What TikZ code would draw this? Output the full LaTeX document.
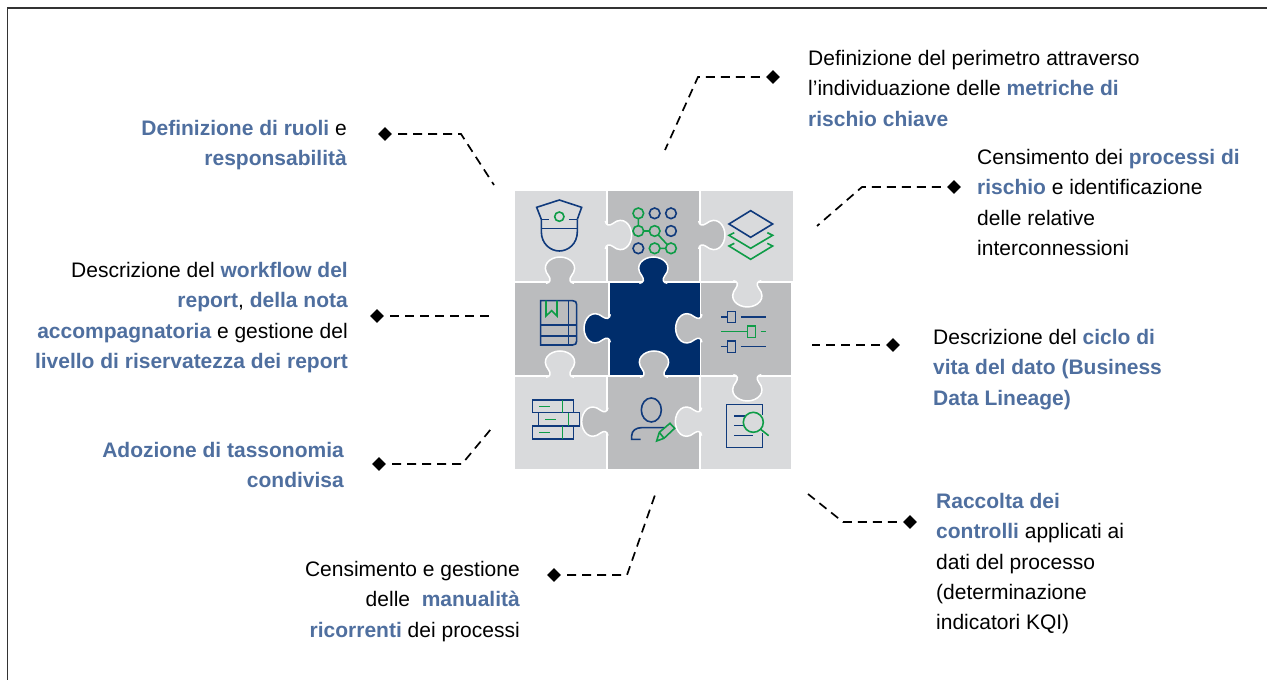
\documentclass[tikz,border=0pt]{standalone}
\usepackage{fontspec}
\setmainfont{Liberation Sans}
\usetikzlibrary{shapes.geometric}
\definecolor{tileLight}{HTML}{D9DADC}
\definecolor{tileMid}{HTML}{BBBCBE}
\definecolor{tileNavy}{HTML}{002D6B}
\definecolor{iconGreen}{HTML}{0E9C47}
\definecolor{iconNavy}{HTML}{103A7C}
\definecolor{txtBlue}{HTML}{4F6F9F}
\newcommand{\kw}[1]{{\bfseries\color{txtBlue}#1}}
\tikzset{
  pics/knob/.style={code={
    \path[fill=#1, draw=white, line width=1.5pt] (-42,4) .. controls (-28,2) and (-27,-8) .. (-34,-18)
      .. controls (-60,-50) and (-30,-75) .. (0,-75) .. controls (30,-75) and (60,-50) .. (34,-18)
      .. controls (27,-8) and (28,2) .. (42,4);
  }},
  txtl/.style={anchor=north west, inner sep=0pt, align=left, font=\fontsize{21}{30.3}\selectfont},
  txtr/.style={anchor=north east, inner sep=0pt, align=right, font=\fontsize{21}{30.3}\selectfont},
  dot/.style={diamond, fill=black, inner sep=0pt, minimum size=14pt},
  dashline/.style={draw=black, line width=1.7pt, dash pattern=on 9pt off 6pt, dash phase=9pt},
  navyline/.style={draw=iconNavy, line width=1.6pt},
  greenline/.style={draw=iconGreen, line width=1.6pt}
}
\begin{document}
\begin{tikzpicture}[x=1pt, y=-1pt]
  \useasboundingbox (0,0) rectangle (1267,680);
  \draw[line width=1.2pt, draw=black!80] (7.5,680) -- (7.5,8) -- (1267,8);

  \begin{scope}[shift={(500,180)}, x=.3333pt, y=-.3333pt]
    \fill[tileLight] (45,32) rectangle (318,303);
    \fill[tileMid] (323,32) rectangle (597,303);
    \fill[tileLight] (603,32) rectangle (880,303);
    \fill[tileMid] (45,310) rectangle (325,585);
    \fill[tileNavy] (329,310) rectangle (600,585);
    \fill[tileMid] (604,310) rectangle (873,585);
    \fill[tileLight] (45,592) rectangle (318,866);
    \fill[tileMid] (323,592) rectangle (598,866);
    \fill[tileLight] (604,592) rectangle (873,866);

    \pic[rotate=-90] at (320,165) {knob=tileLight};
    \pic[rotate=-90] at (600,165) {knob=tileMid};
    \pic at (180,306) {knob=tileMid};
    \pic at (460,306) {knob=tileNavy};
    \pic[rotate=180] at (742,306) {knob=tileLight};
    \pic[rotate=90] at (327,445) {knob=tileNavy};
    \pic[rotate=90] at (602,445) {knob=tileMid};
    \pic at (180,588) {knob=tileLight};
    \pic at (462,588) {knob=tileMid};
    \pic[rotate=180] at (742,588) {knob=tileMid};
    \pic[rotate=90] at (320,725) {knob=tileMid};
    \pic[rotate=90] at (601,725) {knob=tileLight};

    % cap
    \draw[navyline] (124,118) -- (110,82) -- (178,60) -- (245,82) -- (232,118);
    \draw[navyline] (124,118) -- (148,118) (208,118) -- (232,118) (124,145) -- (232,145);
    \draw[navyline] (124,118) -- (124,155) .. controls (124,192) and (152,213) .. (178,213) .. controls (204,213) and (232,192) .. (232,155) -- (232,118);
    \draw[greenline] (178,110) circle [radius=14];

    % grid of dots
    \foreach \cx/\cy/\cc in {415/100/iconGreen, 464/100/iconNavy, 513/100/iconNavy, 415/153/iconGreen, 464/153/iconGreen, 513/153/iconNavy, 415/205/iconNavy, 464/205/iconGreen, 513/205/iconGreen}
      \draw[draw=\cc, line width=1.6pt] (\cx,\cy) circle [radius=16];
    \draw[greenline] (415,116) -- (415,137) (431,153) -- (448,153) (475,165) -- (502,194) (480,205) -- (497,205);

    % layers
    \draw[navyline] (752,92) -- (818,132) -- (752,172) -- (687,132) -- cycle;
    \draw[greenline] (703,158) -- (687,166) -- (752,205) -- (818,166) -- (802,158);
    \draw[greenline] (703,190) -- (687,198) -- (752,238) -- (818,198) -- (802,190);

    % book
    \draw[navyline] (122,495) -- (122,362) -- (218,362) .. controls (226,362) and (230,366) .. (230,374) -- (230,483) .. controls (230,491) and (226,495) .. (218,495) -- cycle;
    \draw[navyline] (205,362) -- (205,495) (122,435) -- (230,435) (122,468) -- (230,468);
    \draw[greenline] (138,362) -- (138,408) -- (155,392) -- (171,408) -- (171,362);

    % sliders
    \draw[navyline] (664,411) -- (683,411) (723,411) -- (797,411) (664,500) -- (683,500) (723,500) -- (797,500);
    \draw[navyline] (683,395) rectangle (707,428) (683,483) rectangle (707,517);
    \draw[greenline] (664,455) -- (742,455) (782,455) -- (797,455) (742,438) rectangle (766,472);

    % files
    \draw[navyline] (98,660) rectangle (220,698) (116,698) rectangle (238,738) (98,738) rectangle (220,777);
    \draw[greenline] (188,660) -- (188,698) (206,698) -- (206,738) (188,738) -- (188,777);
    \draw[greenline] (118,680) -- (150,680) (136,718) -- (168,718) (118,757) -- (150,757);

    % person
    \draw[navyline] (454,690) ellipse [x radius=30, y radius=36];
    \draw[navyline] (422,778) -- (395,778) -- (395,768) .. controls (395,752) and (408,743) .. (425,743) -- (492,743);
    \draw[greenline] (470,783) -- (478,757) -- (510,730) -- (524,745) -- (492,775) -- cycle (478,757) -- (492,775);

    % search
    \draw[navyline] (787,705) -- (787,673) -- (680,673) -- (680,802) -- (787,802) -- (787,760);
    \draw[navyline] (703,708) -- (735,708) (703,737) -- (733,737) (703,767) -- (760,767);
    \draw[greenline] (760,727) circle [radius=30] (782,748) -- (806,767);
  \end{scope}

  \node (troles) [txtr] at (347,120) {\kw{Definizione di ruoli} e\\\kw{responsabilità}};
  \node (tflow) [txtr] at (348,262) {Descrizione del \kw{workflow del}\\\kw{report}, \kw{della nota}\\\kw{accompagnatoria} e gestione del\\\kw{livello di riservatezza dei report}};
  \node (ttass) [txtr] at (344,442) {\kw{Adozione di tassonomia}\\\kw{condivisa}};
  \node (tmanual) [txtr] at (520,561) {Censimento e gestione\\delle~~\kw{manualità}\\\kw{ricorrenti} dei processi};
  \node (tmetric) [txtl] at (808,50) {Definizione del perimetro attraverso\\l’individuazione delle \kw{metriche di}\\\kw{rischio chiave}};
  \node (tproc) [txtl] at (977,149) {Censimento dei \kw{processi di}\\\kw{rischio} e identificazione\\delle relative\\interconnessioni};
  \node (tciclo) [txtl] at (933,329) {Descrizione del \kw{ciclo di}\\\kw{vita del dato (Business}\\\kw{Data Lineage)}};
  \node (tracc) [txtl] at (936,493) {\kw{Raccolta dei}\\\kw{controlli} applicati ai\\dati del processo\\(determinazione\\indicatori KQI)};

  \node (droles) [dot] at (385,134) {};
  \node (dflow) [dot] at (377,316) {};
  \node (dtass) [dot] at (379,464) {};
  \node (dmanual) [dot] at (554,575) {};
  \node (dmetric) [dot] at (773,77) {};
  \node (dproc) [dot] at (954,187) {};
  \node (dciclo) [dot] at (893,345) {};
  \node (dracc) [dot] at (910,522) {};

  \coordinate (eroles) at (494,185);
  \coordinate (eflow) at (489,316);
  \coordinate (etass) at (491,429);
  \coordinate (emanual) at (655,495);
  \coordinate (emetric) at (665,150);
  \coordinate (eproc) at (817,226);
  \coordinate (eciclo) at (812,345);
  \coordinate (eracc) at (808,494);

  \draw[dashline] (droles) -- (461,134) -- (eroles);
  \draw[dashline] (dflow) -- (eflow);
  \draw[dashline] (dtass) -- (462,464) -- (etass);
  \draw[dashline] (dmanual) -- (627,575) -- (emanual);
  \draw[dashline] (dmetric) -- (698,77) -- (emetric);
  \draw[dashline] (dproc) -- (862,187) -- (eproc);
  \draw[dashline] (dciclo) -- (eciclo);
  \draw[dashline] (dracc) -- (843,522) -- (eracc);
\end{tikzpicture}
\end{document}
